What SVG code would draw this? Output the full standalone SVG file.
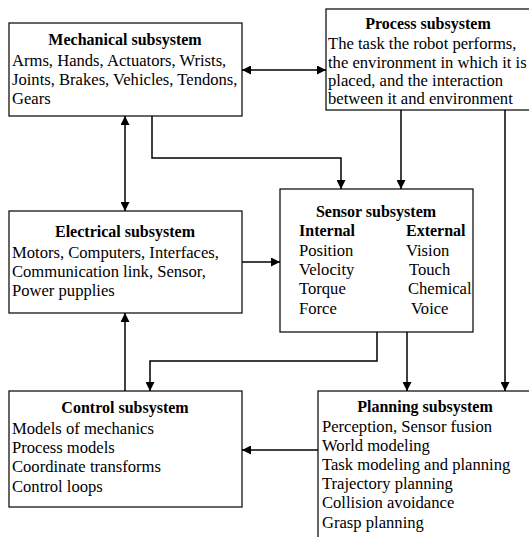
<svg xmlns="http://www.w3.org/2000/svg" width="529" height="537" viewBox="0 0 529 537">
<style>
.box{fill:#fff;stroke:#000;stroke-width:1.2}
.t{font-family:"Liberation Serif","Times New Roman",serif;font-size:16.6px;fill:#000}
.b{font-weight:bold;font-size:16px}
.c{text-anchor:middle}
.ln{fill:none;stroke:#000;stroke-width:1.5}
</style>
<defs>
<marker id="ah" viewBox="0 0 10 10" refX="10" refY="5" markerWidth="9" markerHeight="9" markerUnits="userSpaceOnUse" orient="auto-start-reverse">
<path d="M0,0 L10,5 L0,10 z" fill="#000"/>
</marker>
</defs>
<rect width="529" height="537" fill="#fff"/>
<g id="mechanical">
<rect class="box" x="9" y="23" width="233" height="93"/>
<text class="t b c" x="125" y="45">Mechanical subsystem</text>
<text class="t" x="12" y="66">Arms, Hands, Actuators, Wrists,</text>
<text class="t" x="12" y="85">Joints, Brakes, Vehicles, Tendons,</text>
<text class="t" x="12" y="104">Gears</text>
</g>
<g id="process">
<rect class="box" x="326" y="9" width="210" height="101"/>
<text class="t b c" x="428" y="29">Process subsystem</text>
<text class="t" x="328" y="49">The task the robot performs,</text>
<text class="t" x="328" y="68">the environment in which it is</text>
<text class="t" x="328" y="86">placed, and the interaction</text>
<text class="t" x="328" y="104">between it and environment</text>
</g>
<g id="electrical">
<rect class="box" x="9" y="211" width="233" height="102"/>
<text class="t b c" x="125" y="237">Electrical subsystem</text>
<text class="t" x="12" y="258">Motors, Computers, Interfaces,</text>
<text class="t" x="12" y="277">Communication link, Sensor,</text>
<text class="t" x="12" y="296">Power pupplies</text>
</g>
<g id="sensor">
<rect class="box" x="280" y="189" width="193" height="143"/>
<text class="t b c" x="376" y="217">Sensor subsystem</text>
<text class="t b" x="299" y="236">Internal</text>
<text class="t b" x="406" y="236">External</text>
<text class="t" x="299" y="256">Position</text>
<text class="t" x="299" y="275">Velocity</text>
<text class="t" x="299" y="294">Torque</text>
<text class="t" x="299" y="314">Force</text>
<text class="t" x="406" y="256">Vision</text>
<text class="t" x="409" y="275">Touch</text>
<text class="t" x="408" y="294">Chemical</text>
<text class="t" x="411" y="314">Voice</text>
</g>
<g id="control">
<rect class="box" x="9" y="391" width="233" height="116"/>
<text class="t b c" x="125" y="413">Control subsystem</text>
<text class="t" x="12" y="434">Models of mechanics</text>
<text class="t" x="12" y="453">Process models</text>
<text class="t" x="12" y="472">Coordinate transforms</text>
<text class="t" x="12" y="492">Control loops</text>
</g>
<g id="planning">
<rect class="box" x="318" y="391" width="230" height="160"/>
<text class="t b c" x="425" y="412">Planning subsystem</text>
<text class="t" x="322" y="432">Perception, Sensor fusion</text>
<text class="t" x="322" y="451">World modeling</text>
<text class="t" x="322" y="470">Task modeling and planning</text>
<text class="t" x="322" y="489">Trajectory planning</text>
<text class="t" x="322" y="508">Collision avoidance</text>
<text class="t" x="322" y="528">Grasp planning</text>
</g>
<g id="connectors">
<path class="ln" d="M242,70 H326" marker-start="url(#ah)" marker-end="url(#ah)"/>
<path class="ln" d="M125,116 V211" marker-start="url(#ah)" marker-end="url(#ah)"/>
<path class="ln" d="M152,116 V158 H341 V189" marker-end="url(#ah)"/>
<path class="ln" d="M401,110 V189" marker-end="url(#ah)"/>
<path class="ln" d="M505,110 V391" marker-end="url(#ah)"/>
<path class="ln" d="M242,262 H280" marker-end="url(#ah)"/>
<path class="ln" d="M125,391 V313" marker-end="url(#ah)"/>
<path class="ln" d="M377,332 V361 H150 V391" marker-end="url(#ah)"/>
<path class="ln" d="M407,332 V391" marker-end="url(#ah)"/>
<path class="ln" d="M318,450 H242" marker-end="url(#ah)"/>
</g>
</svg>
